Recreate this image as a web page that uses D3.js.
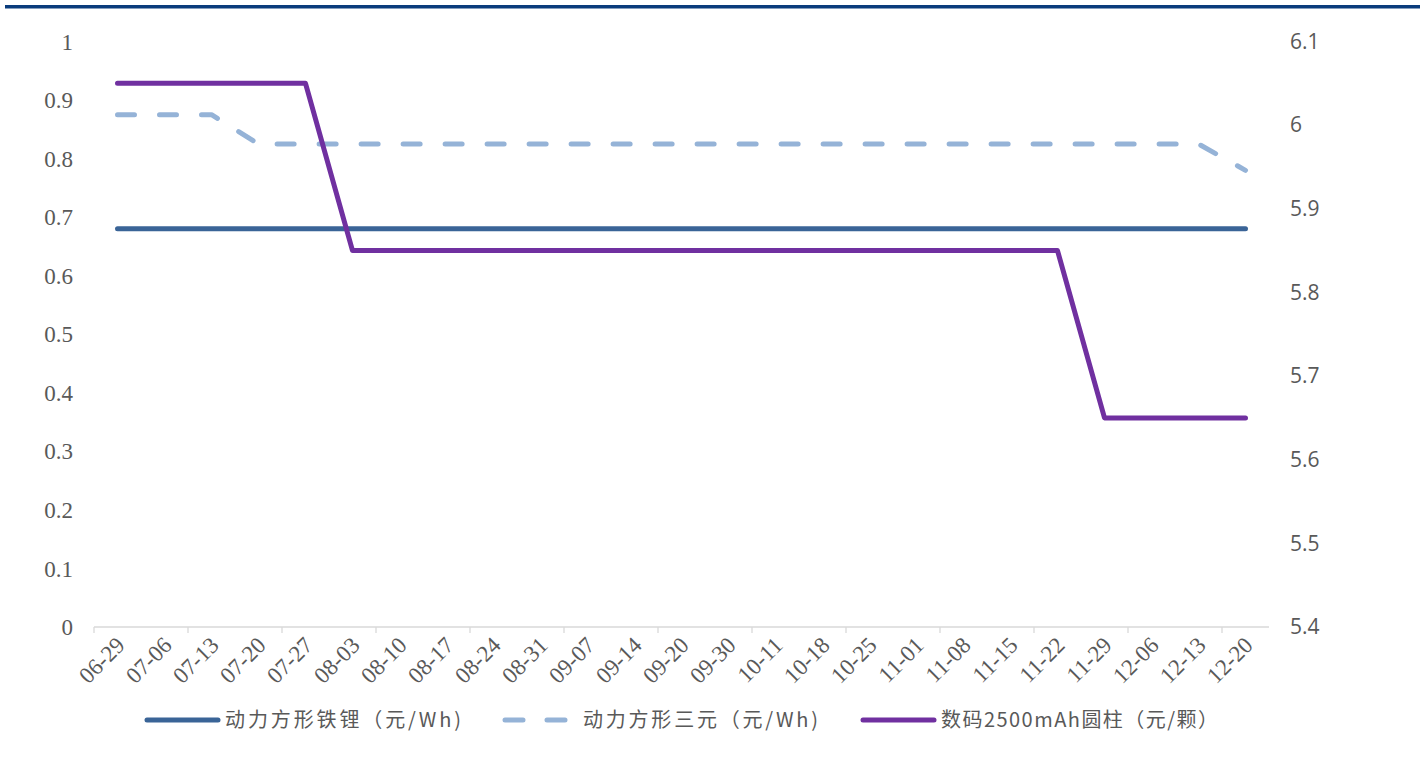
<!DOCTYPE html>
<html>
<head>
<meta charset="utf-8">
<script src="https://cdn.jsdelivr.net/npm/d3@7"></script>
<style>
  body { margin: 0; background: #fff; }
  svg { display: block; }
</style>
</head>
<body>
<svg id="canvas" width="1420" height="765"></svg>
<script>
// categories (weekly dates)
let dates = ['06-29','07-06','07-13','07-20','07-27','08-03','08-10','08-17','08-24','08-31',
             '09-07','09-14','09-20','09-30','10-11','10-18','10-25','11-01','11-08','11-15',
             '11-22','11-29','12-06','12-13','12-20'];

// left axis series
let lfpPrices = [0.68,0.68,0.68,0.68,0.68,0.68,0.68,0.68,0.68,0.68,
                 0.68,0.68,0.68,0.68,0.68,0.68,0.68,0.68,0.68,0.68,
                 0.68,0.68,0.68,0.68,0.68];
let nmcPrices = [0.875,0.875,0.875,0.825,0.825,0.825,0.825,0.825,0.825,0.825,
                 0.825,0.825,0.825,0.825,0.825,0.825,0.825,0.825,0.825,0.825,
                 0.825,0.825,0.825,0.825,0.78];
// right axis series
let cylPrices = [6.05,6.05,6.05,6.05,6.05,5.85,5.85,5.85,5.85,5.85,
                 5.85,5.85,5.85,5.85,5.85,5.85,5.85,5.85,5.85,5.85,
                 5.85,5.65,5.65,5.65,5.65];

let leftTicks = [0,0.1,0.2,0.3,0.4,0.5,0.6,0.7,0.8,0.9,1];
let rightTicks = [5.4,5.5,5.6,5.7,5.8,5.9,6,6.1];
let seriesNames = ['动力方形铁锂（元/Wh)','动力方形三元（元/Wh)','数码2500mAh圆柱（元/颗）'];

let canvas = d3.select('#canvas');

let plotLeft = 94, plotRight = 1269, plotTop = 41.5, plotBottom = 627;

let x = d3.scaleBand().domain(dates).range([plotLeft, plotRight]);
let yL = d3.scaleLinear().domain([0, 1]).range([plotBottom, plotTop]);
let yR = d3.scaleLinear().domain([5.4, 6.1]).range([plotBottom, plotTop]);

// header rule
canvas.append('rect')
    .attr('x', 5).attr('y', 5).attr('width', 1415).attr('height', 3.5)
    .attr('fill', '#0a3c7c');

// x axis line + ticks every two categories
canvas.append('line')
    .attr('x1', plotLeft).attr('x2', plotRight).attr('y1', plotBottom).attr('y2', plotBottom)
    .attr('stroke', '#d9d9d9').attr('stroke-width', 1.3);

canvas.selectAll('.xtick')
    .data(dates.filter((d, i) => i % 2 === 0))
    .enter()
    .append('line')
    .attr('class', 'xtick')
    .attr('x1', d => x(d)).attr('x2', d => x(d))
    .attr('y1', plotBottom).attr('y2', plotBottom + 6)
    .attr('stroke', '#d9d9d9').attr('stroke-width', 1.3);

canvas.selectAll('.xlabel')
    .data(dates)
    .enter()
    .append('text')
    .attr('class', 'xlabel')
    .attr('transform', d => 'translate(' + (x(d) + x.bandwidth() / 2 + 3) + ',' + (plotBottom + 14) + ') rotate(-45)')
    .attr('text-anchor', 'end')
    .attr('dy', '0.35em')
    .attr('font-family', '"Liberation Serif", serif')
    .attr('font-size', 23)
    .attr('fill', '#595959')
    .text(d => d);

// left axis labels
canvas.selectAll('.ylabel')
    .data(leftTicks)
    .enter()
    .append('text')
    .attr('class', 'ylabel')
    .attr('x', 73)
    .attr('y', d => yL(d))
    .attr('dy', '0.35em')
    .attr('text-anchor', 'end')
    .attr('font-family', '"Liberation Serif", serif')
    .attr('font-size', 23)
    .attr('fill', '#595959')
    .text(d => d3.format('~g')(d));

// right axis labels
canvas.selectAll('.rlabel')
    .data(rightTicks)
    .enter()
    .append('text')
    .attr('class', 'rlabel')
    .attr('x', 1290)
    .attr('y', d => yR(d))
    .attr('dy', '0.35em')
    .attr('font-family', '"Open Sans", sans-serif')
    .attr('font-size', 21)
    .attr('fill', '#595959')
    .text(d => d3.format('~g')(d));

let cx = d => x(d) + x.bandwidth() / 2;

let lineL = d3.line().x((v, i) => cx(dates[i])).y(v => yL(v));
let lineR = d3.line().x((v, i) => cx(dates[i])).y(v => yR(v));

let styles = [
    {color: '#3a6497', dash: null},
    {color: '#95b3d7', dash: '17,25'},
    {color: '#7030a0', dash: null}
];

canvas.append('path')
    .attr('d', lineL(lfpPrices))
    .attr('fill', 'none').attr('stroke', styles[0].color)
    .attr('stroke-width', 5).attr('stroke-linecap', 'round').attr('stroke-linejoin', 'round');

canvas.append('path')
    .attr('d', lineL(nmcPrices))
    .attr('fill', 'none').attr('stroke', styles[1].color)
    .attr('stroke-width', 5).attr('stroke-dasharray', styles[1].dash)
    .attr('stroke-linecap', 'round').attr('stroke-linejoin', 'round');

canvas.append('path')
    .attr('d', lineR(cylPrices))
    .attr('fill', 'none').attr('stroke', styles[2].color)
    .attr('stroke-width', 5).attr('stroke-linecap', 'round').attr('stroke-linejoin', 'round');

// legend
let legendX = [147, 505, 863];
let legendTextLen = [236, 235, 277];
let legend = canvas.selectAll('.legend')
    .data(seriesNames)
    .enter()
    .append('g')
    .attr('class', 'legend')
    .attr('transform', (d, i) => 'translate(' + legendX[i] + ',720)');

legend.append('line')
    .attr('x1', 0).attr('x2', 71).attr('y1', 0).attr('y2', 0)
    .attr('stroke', (d, i) => styles[i].color)
    .attr('stroke-width', 5)
    .attr('stroke-linecap', 'round')
    .attr('stroke-dasharray', (d, i) => i === 1 ? '18,24' : null);

legend.append('text')
    .attr('x', 78)
    .attr('y', 0)
    .attr('dy', '0.35em')
    .attr('font-family', '"Noto Sans CJK SC", sans-serif')
    .attr('font-size', 20)
    .attr('fill', '#595959')
    .attr('textLength', (d, i) => legendTextLen[i])
    .attr('lengthAdjust', 'spacing')
    .text(d => d);
</script>
</body>
</html>
